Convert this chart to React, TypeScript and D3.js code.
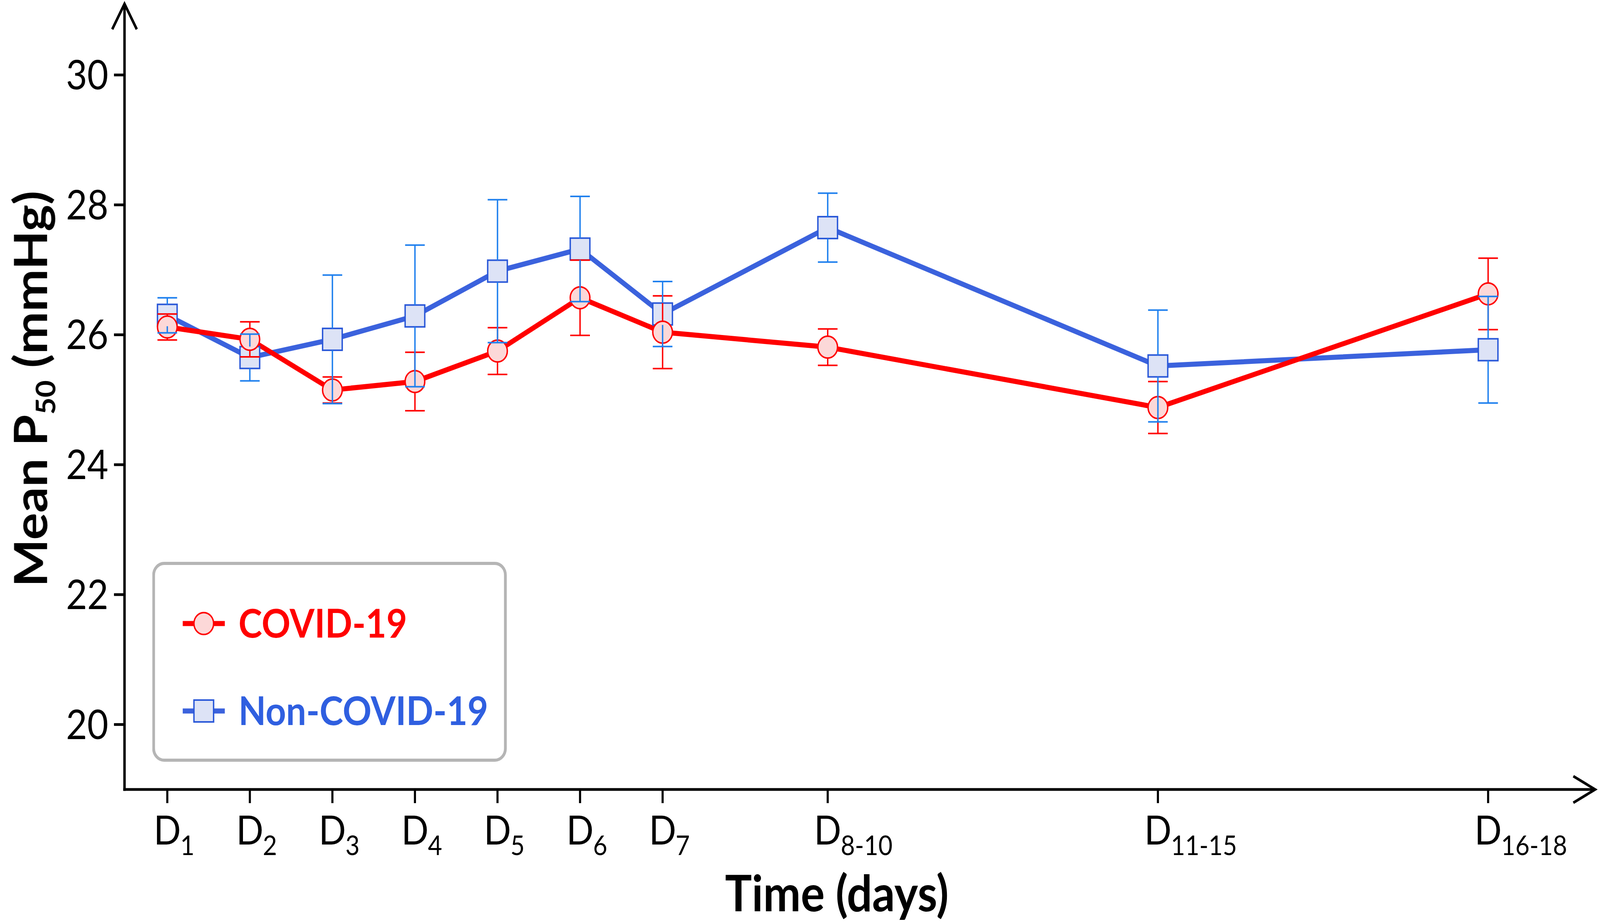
import React, { useEffect } from "react";
import * as d3 from "d3";

// Categories (day labels) and their position on the time axis (day number)
const dayLabels = ["1", "2", "3", "4", "5", "6", "7", "8-10", "11-15", "16-18"];
const dayPositions = [1, 2, 3, 4, 5, 6, 7, 9, 13, 17];

// Mean P50 (mmHg) with error bar half-widths
const covidMean = [26.12, 25.93, 25.15, 25.28, 25.75, 26.57, 26.04, 25.81, 24.88, 26.63];
const covidErr = [0.2, 0.27, 0.2, 0.45, 0.36, 0.58, 0.56, 0.28, 0.4, 0.55];
const nonCovidMean = [26.3, 25.65, 25.93, 26.29, 26.98, 27.32, 26.32, 27.65, 25.52, 25.77];
const nonCovidErr = [0.27, 0.36, 0.99, 1.09, 1.1, 0.81, 0.5, 0.53, 0.86, 0.82];

const yTicks = [20, 22, 24, 26, 28, 30];

// drawing is laid out in the reference's own pixel space and stretched to the viewport
const WIDTH = 4562;
const HEIGHT = 2364;
const FONT = "Lato, 'Open Sans', sans-serif";

const RED = "#ff0000";
const RED_FILL = "#fcd8d8";
const BLUE_LINE = "#3b62dd";
const BLUE_BAR = "#1f80ee";
const BLUE_FILL = "#dde3f6";
const BLUE_EDGE = "#2a58d8";
const BLUE_TEXT = "#2f5fe0";

const App: React.FC = () => {
  useEffect(() => {
    document.body.style.margin = "0";
    document.body.style.overflow = "hidden";
  }, []);

  const x = d3.scaleLinear().domain([1, 17]).range([477, 4243]);
  const y = d3.scaleLinear().domain([19, 30]).range([2022, 192]);

  const axisX = 355;
  const axisY = y(19);

  const line = d3
    .line<number>()
    .x((_, i) => x(dayPositions[i]))
    .y((d) => y(d));

  const R = 28; // circle radius
  const S = 56; // square side
  const CAP = 56;

  // error bar drawn outside its own marker, caps at the ends
  const errorBars = (
    means: number[],
    errs: number[],
    half: number,
    color: string,
    key: string
  ) =>
    means.map((m, i) => {
      const cx = x(dayPositions[i]);
      const yt = y(m + errs[i]);
      const yb = y(m - errs[i]);
      const yc = y(m);
      return (
        <g key={`${key}-${i}`} stroke={color} strokeWidth={4}>
          {yt < yc - half && <line x1={cx} x2={cx} y1={yt} y2={yc - half} />}
          {yb > yc + half && <line x1={cx} x2={cx} y1={yc + half} y2={yb} />}
          <line x1={cx - CAP / 2} x2={cx + CAP / 2} y1={yt} y2={yt} />
          <line x1={cx - CAP / 2} x2={cx + CAP / 2} y1={yb} y2={yb} />
        </g>
      );
    });

  return (
    <svg
      viewBox={`0 0 ${WIDTH} ${HEIGHT}`}
      preserveAspectRatio="none"
      style={{ position: "fixed", left: 0, top: 0, width: "100vw", height: "100vh", display: "block" }}
    >
      <rect width={WIDTH} height={HEIGHT} fill="#fff" />

      {/* Axes */}
      <g stroke="#000" fill="none" strokeLinecap="butt">
        <line x1={axisX} x2={axisX} y1={axisY + 3.5} y2={10} strokeWidth={7} />
        <polyline
          points={`${axisX - 35},75 ${axisX},10 ${axisX + 35},75`}
          strokeWidth={7}
          strokeLinejoin="miter"
        />
        <line x1={axisX - 3.5} x2={4548} y1={axisY} y2={axisY} strokeWidth={7} />
        <polyline
          points={`${4486},${axisY - 34} ${4548},${axisY} ${4486},${axisY + 34}`}
          strokeWidth={7}
        />
        {yTicks.map((t) => (
          <line key={t} x1={axisX - 30} x2={axisX} y1={y(t)} y2={y(t)} strokeWidth={7} />
        ))}
        {dayPositions.map((d) => (
          <line key={d} x1={x(d)} x2={x(d)} y1={axisY} y2={axisY + 35} strokeWidth={6} />
        ))}
      </g>

      {/* Y tick labels */}
      <g fontFamily={FONT} fontSize={104} fill="#000" textAnchor="end">
        {yTicks.map((t) => (
          <text key={t} x={axisX - 46} y={y(t) + 37}>
            {t}
          </text>
        ))}
      </g>

      {/* X tick labels */}
      <g fontFamily={FONT} fill="#000">
        {dayPositions.map((d, i) => (
          <g key={d}>
            <text x={x(d)} y={2163} fontSize={102} textAnchor="middle">
              D
            </text>
            <text x={x(d) + 37} y={2190} fontSize={70}>
              {dayLabels[i]}
            </text>
          </g>
        ))}
      </g>

      {/* Axis titles */}
      <text
        x={2386}
        y={2334}
        fontFamily={FONT}
        fontWeight={700}
        fontSize={128}
        textAnchor="middle"
        fill="#000"
      >
        Time (days)
      </text>
      <text
        transform="translate(134,996) rotate(-90)"
        fontFamily={FONT}
        fontWeight={700}
        fontSize={130}
        textAnchor="middle"
        fill="#000"
      >
        Mean P
        <tspan fontSize={76} dy={24}>
          50
        </tspan>
        <tspan dy={-24}> (mmHg)</tspan>
      </text>

      {/* Lines */}
      <path d={line(nonCovidMean) ?? ""} fill="none" stroke={BLUE_LINE} strokeWidth={13} strokeLinejoin="round" />
      <path d={line(covidMean) ?? ""} fill="none" stroke={RED} strokeWidth={13} strokeLinejoin="round" />

      {/* Markers */}
      {nonCovidMean.map((m, i) => (
        <rect
          key={`sq-${i}`}
          x={x(dayPositions[i]) - S / 2}
          y={y(m) - S / 2}
          width={S}
          height={S}
          fill={BLUE_FILL}
          stroke={BLUE_EDGE}
          strokeWidth={4}
        />
      ))}
      {covidMean.map((m, i) => (
        <circle
          key={`ci-${i}`}
          cx={x(dayPositions[i])}
          cy={y(m)}
          r={R}
          fill={RED_FILL}
          stroke={RED}
          strokeWidth={4}
        />
      ))}

      {/* Error bars */}
      {errorBars(covidMean, covidErr, R, RED, "red")}
      {errorBars(nonCovidMean, nonCovidErr, S / 2, BLUE_BAR, "blue")}

      {/* Legend */}
      <rect
        x={438}
        y={1443}
        width={1003}
        height={504}
        rx={30}
        fill="#fff"
        stroke="#b5b5b5"
        strokeWidth={8}
      />
      <g>
        <line x1={521} x2={641} y1={1597} y2={1597} stroke={RED} strokeWidth={13} />
        <circle cx={581} cy={1597} r={R} fill={RED_FILL} stroke={RED} strokeWidth={4} />
        <text x={680} y={1633} fontFamily={FONT} fontWeight={700} fontSize={102} fill={RED}>
          COVID-19
        </text>
      </g>
      <g>
        <line x1={521} x2={641} y1={1821} y2={1821} stroke={BLUE_LINE} strokeWidth={13} />
        <rect
          x={581 - S / 2}
          y={1821 - S / 2}
          width={S}
          height={S}
          fill={BLUE_FILL}
          stroke={BLUE_EDGE}
          strokeWidth={4}
        />
        <text x={680} y={1857} fontFamily={FONT} fontWeight={700} fontSize={102} fill={BLUE_TEXT}>
          Non-COVID-19
        </text>
      </g>
    </svg>
  );
};

export default App;
